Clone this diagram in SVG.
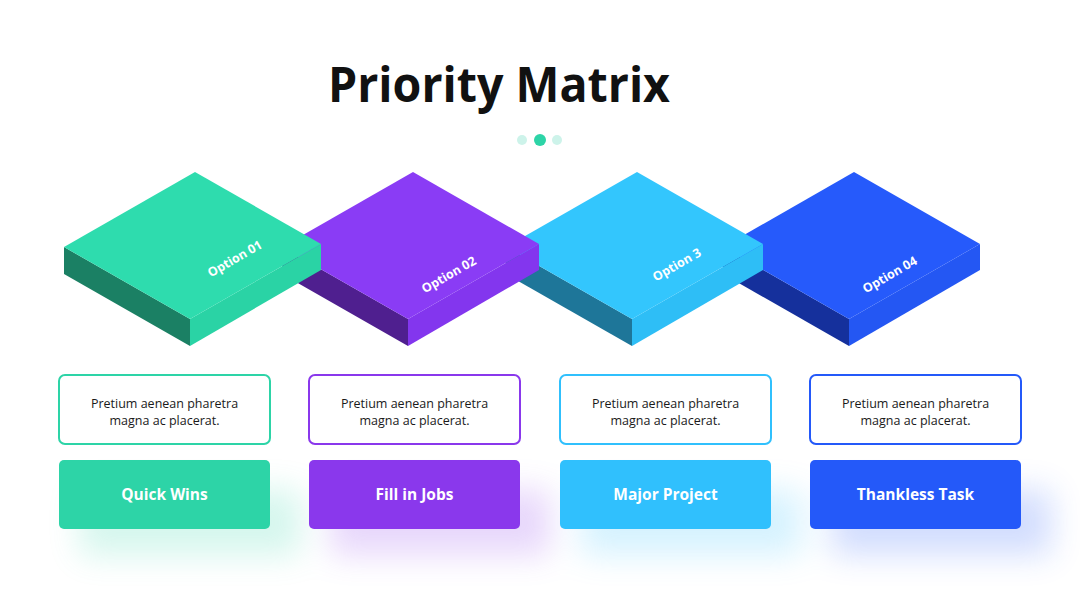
<svg xmlns="http://www.w3.org/2000/svg" width="1080" height="608" viewBox="0 0 1080 608">
<style>
.title{font-family:"Open Sans","Liberation Sans",sans-serif;font-weight:700;font-size:48px;fill:#111111}
.opt{font-family:"Open Sans","Liberation Sans",sans-serif;font-weight:700;font-size:12.5px;fill:#ffffff}
.desc{font-family:"Open Sans","Liberation Sans",sans-serif;font-weight:400;font-size:12.5px;fill:#1a1a1a}
.btn{font-family:"Open Sans","Liberation Sans",sans-serif;font-weight:700;font-size:15.5px;fill:#ffffff}
.box{fill:#ffffff;stroke-width:2}
</style>
<defs>
<filter id="glow" x="-50%" y="-100%" width="200%" height="300%"><feGaussianBlur stdDeviation="16"/></filter>
<path id="topface" d="M0,0 L126,72 L-5,147 L-131,75 Z"/>
<path id="rightface" d="M-5,147 L126,72 L126,98 L-5,174 Z"/>
<path id="leftface" d="M-131,75 L-5,147 L-5,174 L-131,102 Z"/>
</defs>
<rect width="1080" height="608" fill="#ffffff"/>
<text class="title" x="499" y="102" text-anchor="middle" textLength="342" lengthAdjust="spacingAndGlyphs">Priority Matrix</text>
<g id="dots">
<circle cx="522" cy="140" r="5" fill="#CDF3EA"/>
<circle cx="540" cy="140" r="6" fill="#2DD4A7"/>
<circle cx="557" cy="140" r="5" fill="#CDF3EA"/>
</g>
<g id="block4" transform="translate(854,172)">
<use href="#leftface" fill="#15309C"/>
<use href="#rightface" fill="#2457F3"/>
<use href="#topface" fill="#265AFB"/>
<text class="opt" transform="translate(36,103) rotate(-30)" text-anchor="middle" dy="4">Option 04</text>
</g>
<g id="block3" transform="translate(637,172)">
<use href="#leftface" fill="#1E7699"/>
<use href="#rightface" fill="#2EBEF6"/>
<use href="#topface" fill="#33C6FD"/>
<text class="opt" transform="translate(40,93) rotate(-30)" text-anchor="middle" dy="4">Option 3</text>
</g>
<g id="block2" transform="translate(413,172)">
<use href="#leftface" fill="#4F1F8F"/>
<use href="#rightface" fill="#8336EE"/>
<use href="#topface" fill="#8A3CF5"/>
<text class="opt" transform="translate(36,103) rotate(-30)" text-anchor="middle" dy="4">Option 02</text>
</g>
<g id="block1" transform="translate(195,172)">
<use href="#leftface" fill="#1B8064"/>
<use href="#rightface" fill="#2AD3A5"/>
<use href="#topface" fill="#2EDCAE"/>
<text class="opt" transform="translate(40,87) rotate(-30)" text-anchor="middle" dy="4">Option 01</text>
</g>
<g id="glows" filter="url(#glow)" opacity="0.2">
<rect x="80" y="490" width="220" height="65" fill="#2DD4A7"/>
<rect x="330" y="490" width="220" height="65" fill="#8A38EC"/>
<rect x="581" y="490" width="220" height="65" fill="#30C0FD"/>
<rect x="831" y="490" width="220" height="65" fill="#2459F9"/>
</g>
<g id="card1">
<rect class="box" x="59" y="375" width="211" height="69" rx="6" stroke="#2DD4A7"/>
<text class="desc" x="164.5" y="408" text-anchor="middle">Pretium aenean pharetra</text>
<text class="desc" x="164.5" y="425" text-anchor="middle">magna ac placerat.</text>
<rect x="59" y="460" width="211" height="69" rx="5" fill="#2DD4A7"/>
<text class="btn" x="164.5" y="500" text-anchor="middle">Quick Wins</text>
</g>
<g id="card2">
<rect class="box" x="309" y="375" width="211" height="69" rx="6" stroke="#8A38EC"/>
<text class="desc" x="414.5" y="408" text-anchor="middle">Pretium aenean pharetra</text>
<text class="desc" x="414.5" y="425" text-anchor="middle">magna ac placerat.</text>
<rect x="309" y="460" width="211" height="69" rx="5" fill="#8A38EC"/>
<text class="btn" x="414.5" y="500" text-anchor="middle">Fill in Jobs</text>
</g>
<g id="card3">
<rect class="box" x="560" y="375" width="211" height="69" rx="6" stroke="#30C0FD"/>
<text class="desc" x="665.5" y="408" text-anchor="middle">Pretium aenean pharetra</text>
<text class="desc" x="665.5" y="425" text-anchor="middle">magna ac placerat.</text>
<rect x="560" y="460" width="211" height="69" rx="5" fill="#30C0FD"/>
<text class="btn" x="665.5" y="500" text-anchor="middle">Major Project</text>
</g>
<g id="card4">
<rect class="box" x="810" y="375" width="211" height="69" rx="6" stroke="#2459F9"/>
<text class="desc" x="915.5" y="408" text-anchor="middle">Pretium aenean pharetra</text>
<text class="desc" x="915.5" y="425" text-anchor="middle">magna ac placerat.</text>
<rect x="810" y="460" width="211" height="69" rx="5" fill="#2459F9"/>
<text class="btn" x="915.5" y="500" text-anchor="middle">Thankless Task</text>
</g>
</svg>
